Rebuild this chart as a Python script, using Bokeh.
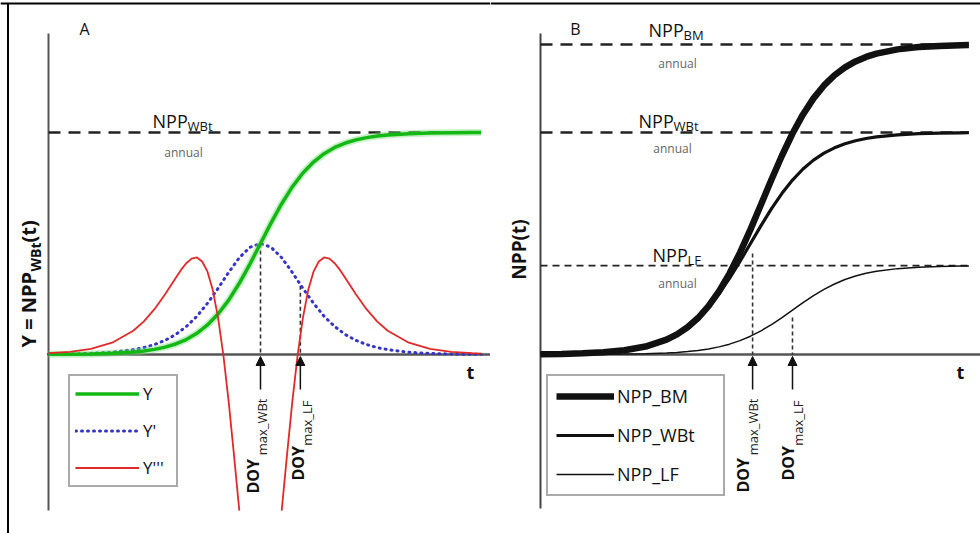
import math
from bokeh.plotting import figure
from bokeh.layouts import row
from bokeh.models import Range1d, Label, Arrow, NormalHead, Legend, LegendItem
from bokeh.embed import file_html
from bokeh.resources import INLINE

FONT = "Open Sans"

# ---------------- data ----------------
# Panel A : Y = NPP_WBt(t), its first (Y') and third (Y''') derivative, normalised
T_A = [0, 5, 10, 15, 20, 22.5, 25, 27.5, 30, 32.5, 35, 37.5, 40, 42.5, 45, 47.5, 50,
       52.5, 55, 57.5, 60, 62.5, 65, 67.5, 70, 72.5, 75, 77.5, 80, 85, 90, 95, 100, 102]
Y_A = [0.0006, 0.0012, 0.0025, 0.0052, 0.0110, 0.0159, 0.0230, 0.0331, 0.0474, 0.0675,
       0.0953, 0.1330, 0.1824, 0.2451, 0.3208, 0.4073, 0.5000, 0.5927, 0.6792, 0.7549,
       0.8176, 0.8670, 0.9047, 0.9325, 0.9526, 0.9669, 0.9770, 0.9841, 0.9890, 0.9948,
       0.9975, 0.9988, 0.9995, 0.9996]
DY_A = [0.001, 0.002, 0.005, 0.010, 0.022, 0.031, 0.045, 0.064, 0.090, 0.126, 0.172,
        0.231, 0.298, 0.370, 0.436, 0.483, 0.500, 0.483, 0.436, 0.370, 0.298, 0.231,
        0.172, 0.126, 0.090, 0.064, 0.045, 0.031, 0.022, 0.010, 0.005, 0.002, 0.001, 0.001]
NAN = float("nan")
T_A3 = [0, 5, 10, 15, 20, 22.5, 25, 27.5, 30, 31.25, 32.5, 33.75, 35, 36.25, 37.5, 38.75,
        40, 41.25, 42.5, 43.75, 45, NAN, 55, 56.25, 57.5, 58.75, 60, 61.25, 62.5, 63.75,
        65, 66.25, 67.5, 68.75, 70, 72.5, 75, 77.5, 80, 85, 90, 95, 100, 102]
D3Y_A = [0.006, 0.012, 0.025, 0.053, 0.107, 0.149, 0.204, 0.271, 0.345, 0.381, 0.411,
         0.432, 0.437, 0.419, 0.373, 0.290, 0.165, -0.004, -0.213, -0.453, -0.703, NAN,
         -0.703, -0.453, -0.213, -0.004, 0.165, 0.290, 0.373, 0.419, 0.437, 0.432, 0.411,
         0.381, 0.345, 0.271, 0.204, 0.149, 0.107, 0.053, 0.025, 0.012, 0.006, 0.004]
NPP_WBT_ANNUAL = 1.0
DOY_A_WBT, DOY_A_WBT_TOP = 50.0, 0.50
DOY_A_LF, DOY_A_LF_TOP = 59.4, 0.31

# Panel B : cumulative NPP of the three pools
T_B = [0, 5, 10, 15, 20, 25, 30, 32.5, 35, 37.5, 40, 42.5, 45, 47.5, 50, 52.5, 55, 57.5,
       60, 62.5, 65, 67.5, 70, 72.5, 75, 77.5, 80, 85, 90, 95, 100, 102]
NPP_BM = [0.0014, 0.0027, 0.0052, 0.0099, 0.0189, 0.0357, 0.0668, 0.0908, 0.1227, 0.1642,
          0.2175, 0.2840, 0.3645, 0.4586, 0.5636, 0.6754, 0.7882, 0.8965, 0.9954, 1.0815,
          1.1537, 1.2120, 1.2579, 1.2934, 1.3203, 1.3404, 1.3555, 1.3745, 1.3847, 1.3901,
          1.3929, 1.3936]
NPP_WBT = [0.0015, 0.0029, 0.0055, 0.0105, 0.0198, 0.0373, 0.0691, 0.0932, 0.1245, 0.1645,
           0.2142, 0.2739, 0.3430, 0.4195, 0.5000, 0.5805, 0.6570, 0.7261, 0.7858, 0.8355,
           0.8755, 0.9068, 0.9309, 0.9490, 0.9627, 0.9728, 0.9802, 0.9895, 0.9945, 0.9971,
           0.9985, 0.9988]
NPP_LF = [0.0001, 0.0002, 0.0005, 0.0009, 0.0018, 0.0035, 0.0068, 0.0095, 0.0132, 0.0183,
          0.0252, 0.0344, 0.0466, 0.0624, 0.0824, 0.1066, 0.1350, 0.1666, 0.2000, 0.2334,
          0.2650, 0.2934, 0.3176, 0.3376, 0.3534, 0.3656, 0.3748, 0.3868, 0.3932, 0.3965,
          0.3982, 0.3986]
NPP_BM_ANNUAL = 1.396
NPP_LF_ANNUAL = 0.40
DOY_B_WBT, DOY_B_WBT_TOP = 50.5, 0.455
DOY_B_LF, DOY_B_LF_TOP = 60.0, 0.167
T_END = 102

# ---------------- layout helpers ----------------
W, H = 490, 533
SY, PY0 = 222.0, 354.0          # px per y unit, pixel row of y = 0
A_PX0, A_SX = 48.0, 4.24        # panel A: pixel column of t = 0, px per t unit
B_PX0, B_SX = 50.0, 4.20        # panel B (relative to its own left edge)


def ax(X):   # picture column -> t (panel A)
    return (X - A_PX0) / A_SX


def bx(X):   # picture column -> t (panel B)
    return (X - 490 - B_PX0) / B_SX


def yv(Y):   # picture row -> y
    return (PY0 - Y) / SY


def make_fig(px0, sx):
    p = figure(width=W, height=H,
               x_range=Range1d(-px0 / sx, (W - px0) / sx),
               y_range=Range1d(-(H - PY0) / SY, PY0 / SY),
               x_axis_type=None, y_axis_type=None,
               toolbar_location=None, output_backend="svg",
               min_border=0, outline_line_color=None,
               background_fill_color="white", border_fill_color="white")
    p.grid.visible = False
    return p


def lab(p, x, y, text, size, bold=False, color="#111111", align="left",
        baseline="alphabetic", angle=0.0):
    p.add_layout(Label(x=x, y=y, text=text, text_font=FONT,
                       text_font_size=f"{size}px",
                       text_font_style="bold" if bold else "normal",
                       text_color=color, text_align=align,
                       text_baseline=baseline, angle=angle))


def npp_label(p, xfun, X, Ybase, sub, size=18, subsize=13, subdx=35):
    lab(p, xfun(X), yv(Ybase), "NPP", size)
    lab(p, xfun(X + subdx), yv(Ybase + 5), sub, subsize)


def doy(p, xfun, t, top, Xdoy, Ybot, Xsub, Ysubtop, sub):
    p.segment(x0=[t], y0=[top], x1=[t], y1=[0], line_color="#333333",
              line_width=1.6, line_dash="4 3")
    p.add_layout(Arrow(end=NormalHead(size=9, fill_color="#111111",
                                      line_color="#111111", line_width=1),
                       x_start=t, y_start=yv(389), x_end=t, y_end=yv(356),
                       line_color="#111111", line_width=1.5))
    lab(p, xfun(Xdoy), yv(Ybot), "DOY", 16, bold=True, align="left",
        baseline="middle", angle=math.pi / 2)
    lab(p, xfun(Xsub), yv(Ysubtop), sub, 13, align="right",
        baseline="middle", angle=math.pi / 2, color="#222222")


def top_border(p):
    p.segment(x0=[p.x_range.start], y0=[yv(3)], x1=[p.x_range.end], y1=[yv(3)],
              line_color="black", line_width=2)


# ---------------- panel A ----------------
pa = make_fig(A_PX0, A_SX)
# frame of the whole picture (left + top)
pa.segment(x0=[ax(7.5)], y0=[pa.y_range.start], x1=[ax(7.5)], y1=[yv(3)],
           line_color="black", line_width=2)
top_border(pa)
# axes
pa.segment(x0=[0], y0=[yv(510)], x1=[0], y1=[yv(33)], line_color="#555555", line_width=2)
pa.segment(x0=[0], y0=[0], x1=[pa.x_range.end], y1=[0], line_color="#555555", line_width=2.5)
# annual level
pa.segment(x0=[0], y0=[NPP_WBT_ANNUAL], x1=[T_END], y1=[NPP_WBT_ANNUAL],
           line_color="#222222", line_width=2.5, line_dash="12 8")
doy(pa, ax, DOY_A_WBT, DOY_A_WBT_TOP, 252, 493, 261, 398, "max_WBt")
doy(pa, ax, DOY_A_LF, DOY_A_LF_TOP, 297, 480, 306, 400, "max_LF")

rb = pa.line(T_A, DY_A, line_color="#3434c8", line_width=3, line_dash="1 5",
             line_cap="round")
pa.line(T_A, Y_A, line_color="#7fdc7f", line_width=7, line_alpha=0.45)
rg = pa.line(T_A, Y_A, line_color="#14b814", line_width=3.5)
rr = pa.line(T_A3, D3Y_A, line_color="#e02a2a", line_width=1.8)

lab(pa, ax(84), yv(28), "A", 16, align="center", baseline="middle")
npp_label(pa, ax, 152, 120, "WBt")
lab(pa, ax(183), yv(152), "annual", 12, color="#666666", align="center", baseline="middle")
lab(pa, ax(470), yv(371), "t", 18, bold=True, align="center", baseline="middle")
# y label  Y = NPP_WBt(t)
lab(pa, ax(28), yv(347), "Y = NPP", 20, bold=True, baseline="middle", angle=math.pi / 2)
lab(pa, ax(35), yv(271), "WBt", 14, bold=True, baseline="middle", angle=math.pi / 2)
lab(pa, ax(28), yv(242), "(t)", 20, bold=True, baseline="middle", angle=math.pi / 2)

legA = Legend(items=[LegendItem(label="Y", renderers=[rg]),
                     LegendItem(label="Y'", renderers=[rb]),
                     LegendItem(label="Y'''", renderers=[rr])],
              location=(68, 46), margin=0, padding=5, spacing=12,
              glyph_height=25, glyph_width=64, label_height=25, label_width=28,
              label_standoff=4, label_text_font=FONT, label_text_font_size="17px",
              label_text_color="#111111",
              border_line_color="#555555", border_line_width=2,
              background_fill_color="white", background_fill_alpha=1.0)
pa.add_layout(legA)

# ---------------- panel B ----------------
pb = make_fig(B_PX0, B_SX)
top_border(pb)
pb.segment(x0=[0], y0=[yv(508)], x1=[0], y1=[yv(33)], line_color="#444444", line_width=2)
pb.segment(x0=[0], y0=[0], x1=[pb.x_range.end], y1=[0], line_color="#555555", line_width=2.5)
pb.segment(x0=[0, 0], y0=[NPP_BM_ANNUAL, NPP_WBT_ANNUAL], x1=[T_END, T_END],
           y1=[NPP_BM_ANNUAL, NPP_WBT_ANNUAL], line_color="#222222", line_width=2.5,
           line_dash="12 8")
pb.segment(x0=[0], y0=[NPP_LF_ANNUAL], x1=[T_END], y1=[NPP_LF_ANNUAL],
           line_color="#222222", line_width=1.8, line_dash="7 5")
doy(pb, bx, DOY_B_WBT, DOY_B_WBT_TOP, 742, 492, 752, 398, "max_WBt")
doy(pb, bx, DOY_B_LF, DOY_B_LF_TOP, 787, 480, 797, 400, "max_LF")

r_lf = pb.line(T_B, NPP_LF, line_color="#111111", line_width=1.5)
r_wbt = pb.line(T_B, NPP_WBT, line_color="#111111", line_width=3.2)
r_bm = pb.line(T_B, NPP_BM, line_color="#111111", line_width=6.5)

lab(pb, bx(575), yv(28), "B", 16, align="center", baseline="middle")
npp_label(pb, bx, 648, 29, "BM")
lab(pb, bx(677), yv(63), "annual", 12, color="#666666", align="center", baseline="middle")
npp_label(pb, bx, 638, 120, "WBt")
lab(pb, bx(672), yv(148), "annual", 12, color="#666666", align="center", baseline="middle")
npp_label(pb, bx, 652, 254, "LF")
lab(pb, bx(677), yv(283), "annual", 12, color="#666666", align="center", baseline="middle")
lab(pb, bx(960), yv(371), "t", 18, bold=True, align="center", baseline="middle")
lab(pb, bx(518), yv(249), "NPP(t)", 19, bold=True, align="center", baseline="middle",
    angle=math.pi / 2)

legB = Legend(items=[LegendItem(label="NPP_BM", renderers=[r_bm]),
                     LegendItem(label="NPP_WBt", renderers=[r_wbt]),
                     LegendItem(label="NPP_LF", renderers=[r_lf])],
              location=(56, 37), margin=0, padding=8, spacing=15,
              glyph_height=24, glyph_width=58, label_height=24, label_width=98,
              label_standoff=3, label_text_font=FONT, label_text_font_size="18px",
              label_text_color="#111111",
              border_line_color="#555555", border_line_width=2,
              background_fill_color="white", background_fill_alpha=1.0)
pb.add_layout(legB)

layout = row(pa, pb)
open("out.html", "w").write(file_html(layout, INLINE))
